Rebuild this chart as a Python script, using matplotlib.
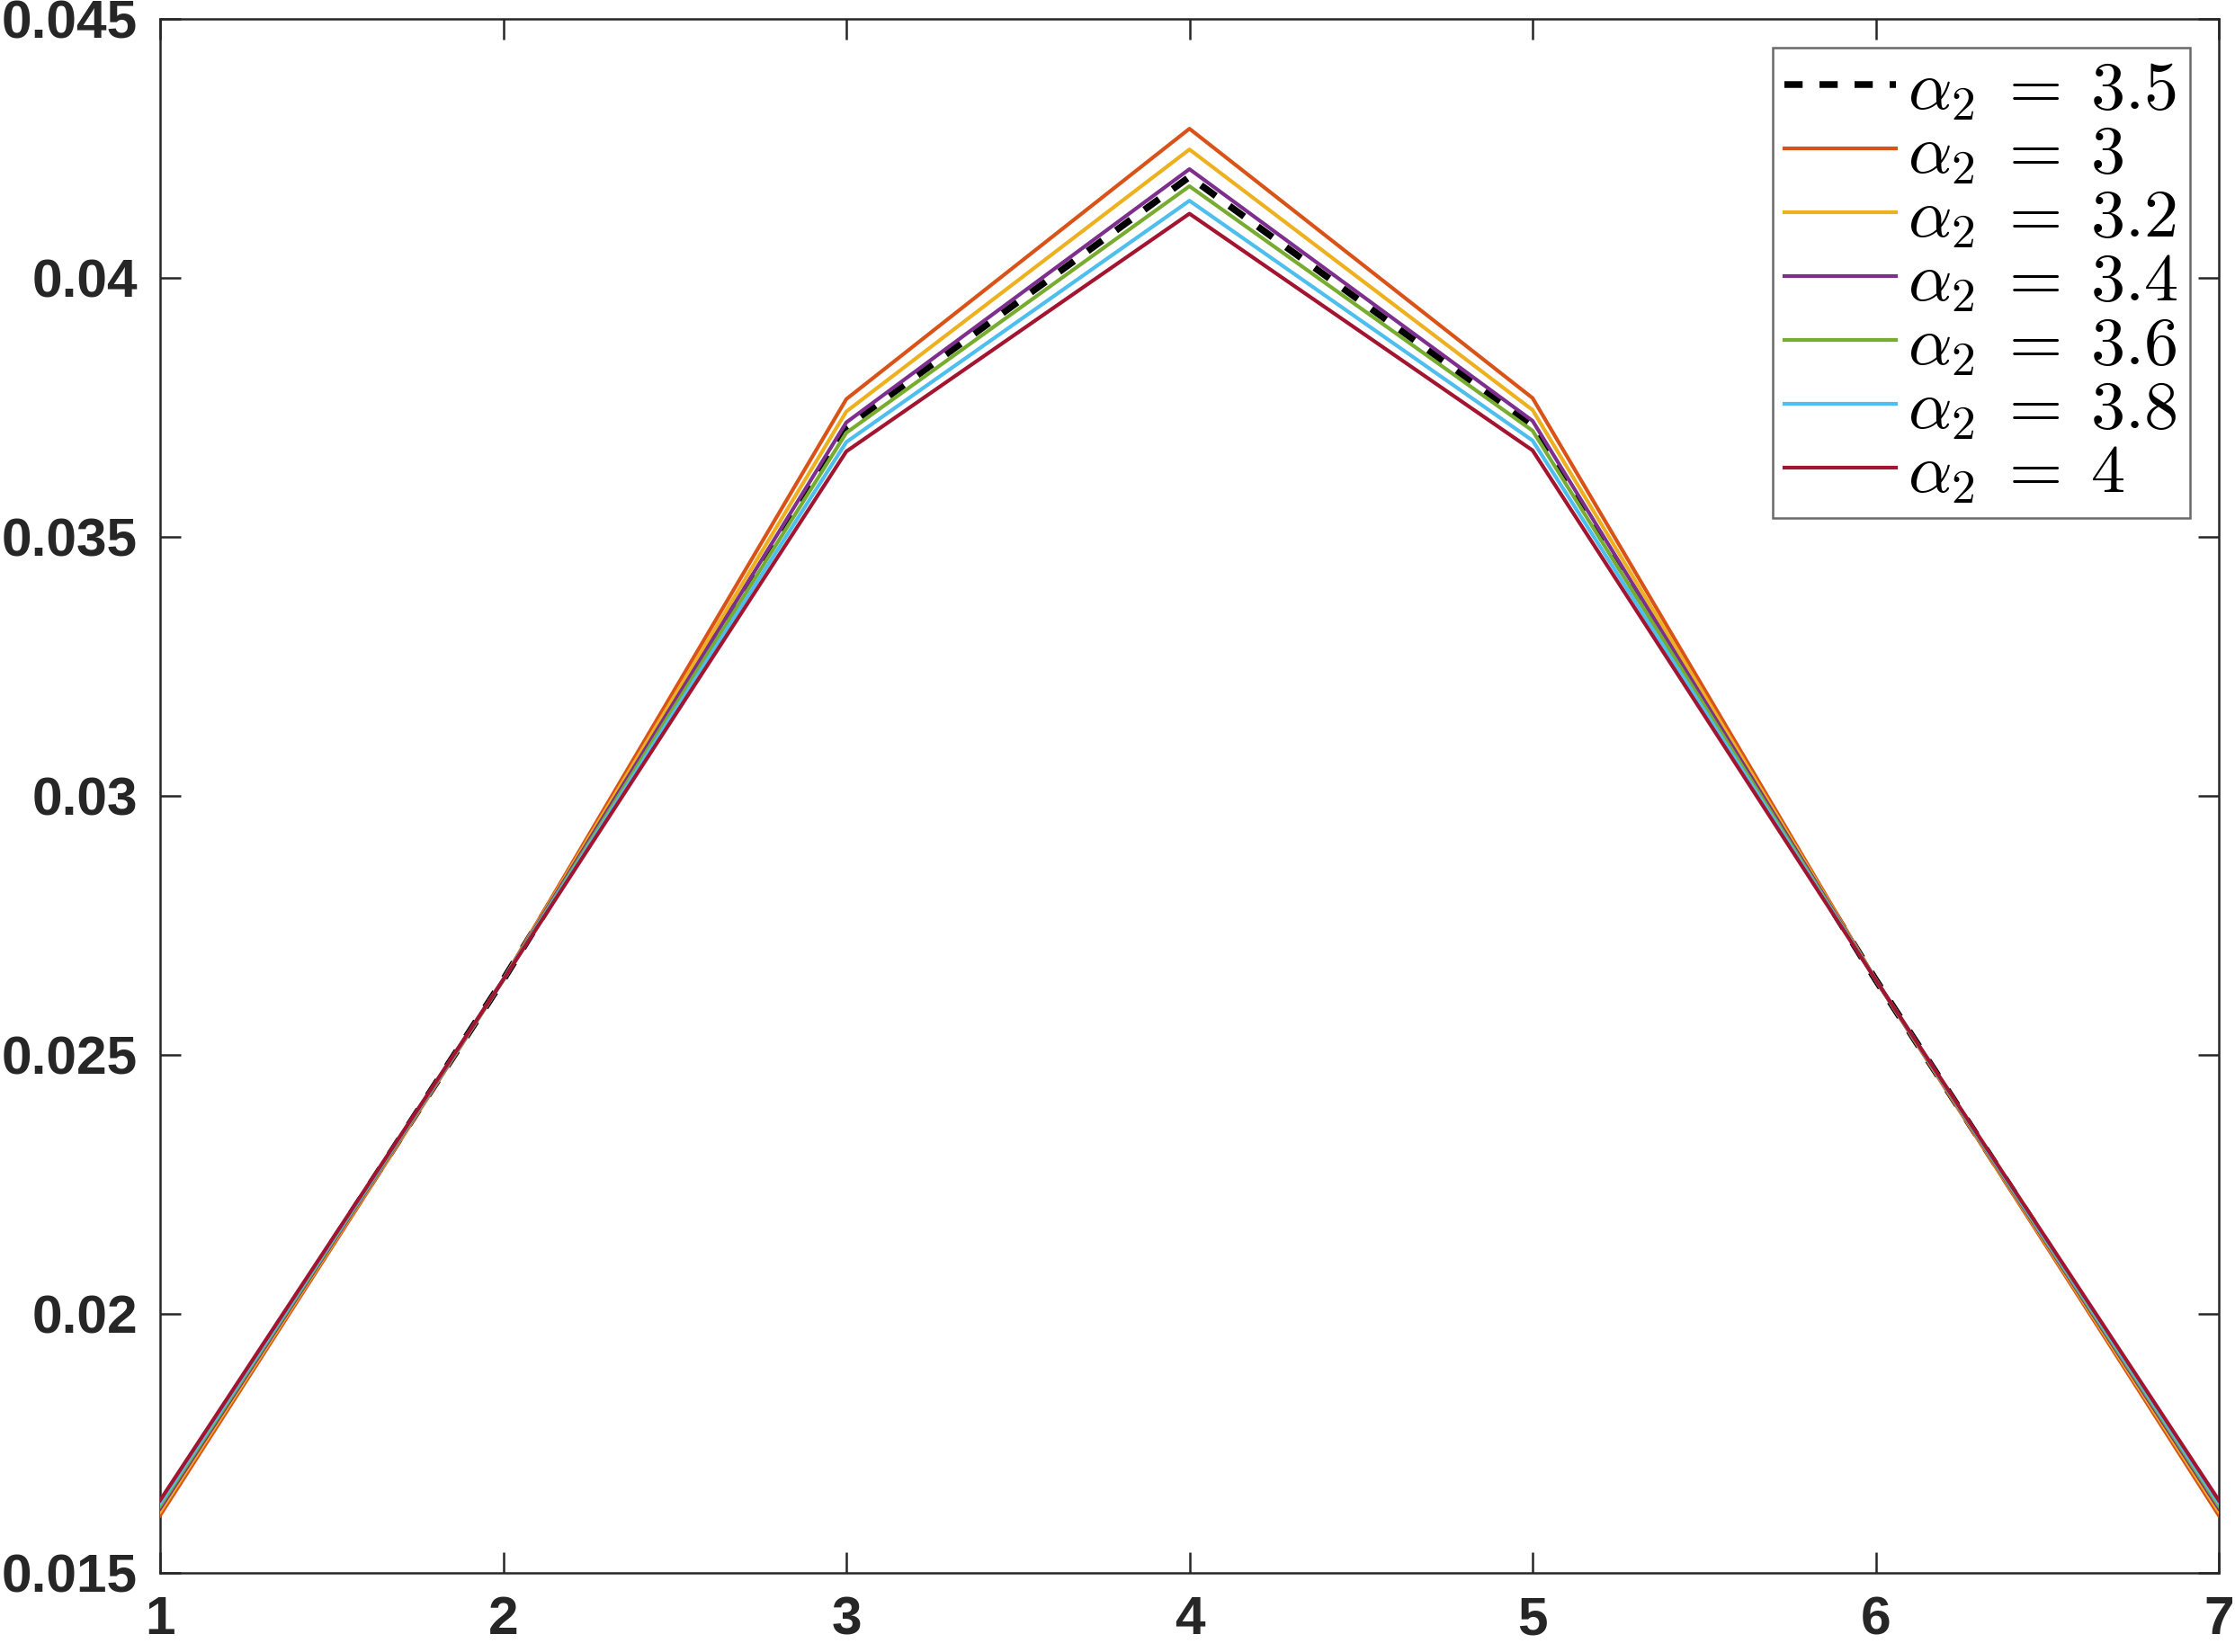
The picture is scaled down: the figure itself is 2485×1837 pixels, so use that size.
import matplotlib
matplotlib.use("Agg")
import matplotlib.pyplot as plt

x = [1, 2, 3, 4, 5, 6, 7]
labels = [r"$\alpha_2\;=\;3.5$", r"$\alpha_2\;=\;3$", r"$\alpha_2\;=\;3.2$", r"$\alpha_2\;=\;3.4$",
          r"$\alpha_2\;=\;3.6$", r"$\alpha_2\;=\;3.8$", r"$\alpha_2\;=\;4$"]
y_a35 = [0.01627, 0.02645, 0.03712, 0.04195, 0.03714, 0.02645, 0.01627]
y_a30 = [0.01611, 0.02645, 0.03766, 0.04288, 0.03768, 0.02645, 0.01611]
y_a32 = [0.01618, 0.02645, 0.03742, 0.04248, 0.03745, 0.02645, 0.01618]
y_a34 = [0.01624, 0.02645, 0.03721, 0.04210, 0.03724, 0.02645, 0.01624]
y_a36 = [0.01629, 0.02645, 0.03701, 0.04177, 0.03705, 0.02645, 0.01629]
y_a38 = [0.01634, 0.02645, 0.03683, 0.04149, 0.03686, 0.02645, 0.01634]
y_a40 = [0.01640, 0.02645, 0.03665, 0.04124, 0.03667, 0.02645, 0.01640]
series = [y_a35, y_a30, y_a32, y_a34, y_a36, y_a38, y_a40]
colors = ["black", "#D95319", "#EDB120", "#7E2F8E", "#77AC30", "#4DBEEE", "#A2142F"]
xticks = [1, 2, 3, 4, 5, 6, 7]
yticks = [0.015, 0.02, 0.025, 0.03, 0.035, 0.04, 0.045]
yticklabels = ["0.015", "0.02", "0.025", "0.03", "0.035", "0.04", "0.045"]

plt.rcParams["mathtext.fontset"] = "cm"
plt.rcParams["font.family"] = ["Liberation Sans", "DejaVu Sans"]

fig = plt.figure(figsize=(2485 / 300, 1837 / 300), dpi=300)
ax = fig.add_axes([178 / 2485, 1 - 1749 / 1837, (2467 - 178) / 2485, (1749 - 21) / 1837])

for i, (ys, c, lab) in enumerate(zip(series, colors, labels)):
    if i == 0:
        ax.plot(x, ys, color=c, lw=1.8, ls=(0, (2.7, 2.5)), label=lab, zorder=2)
    else:
        ax.plot(x, ys, color=c, lw=1.0, label=lab, zorder=3)

ax.set_xlim(1, 7)
ax.set_ylim(0.015, 0.045)
ax.set_xticks(xticks)
ax.set_xticklabels([str(v) for v in xticks])
ax.set_yticks(yticks)
ax.set_yticklabels(yticklabels)

axc = "#262626"
for s in ax.spines.values():
    s.set_color(axc)
    s.set_linewidth(0.6)
ax.tick_params(direction="in", length=5.5, width=0.6, color=axc, labelcolor=axc,
               top=True, right=True, labelsize=14.5, pad=6)
for t in ax.get_xticklabels() + ax.get_yticklabels():
    t.set_fontweight("bold")

leg = ax.legend(loc="upper right", fontsize=18.3, frameon=True, fancybox=False,
                handlelength=1.62, handletextpad=0.18, labelspacing=0.0,
                borderaxespad=0.42, borderpad=0.17)
leg.get_frame().set_edgecolor("#444444")
leg.get_frame().set_linewidth(0.6)

fig.savefig("out.png", dpi=300)
